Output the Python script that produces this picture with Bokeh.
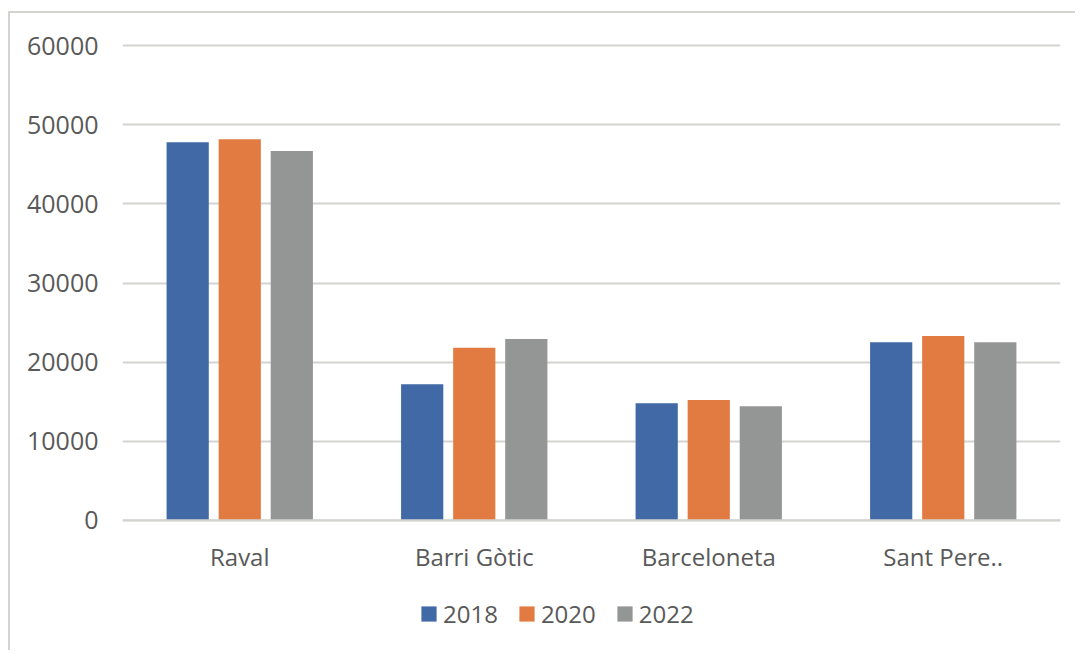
from bokeh.plotting import figure
from bokeh.layouts import column
from bokeh.models import Range1d, FixedTicker, NumeralTickFormatter, Legend, LegendItem, Span
from bokeh.transform import dodge
from bokeh.embed import file_html
from bokeh.resources import INLINE

districts = ["Raval", "Barri Gòtic", "Barceloneta", "Sant Pere.."]
years = ["2018", "2020", "2022"]
v2018 = [47800, 17200, 14800, 22500]
v2020 = [48200, 21800, 15200, 23300]
v2022 = [46700, 22900, 14400, 22500]
y_ticks = [0, 10000, 20000, 30000, 40000, 50000, 60000]

colors = ["#4169A6", "#E27B42", "#939695"]
FONT = "Open Sans"
TXT = "#595959"
GRID = "#d3d3cf"

data = dict(district=districts, y2018=v2018, y2020=v2020, y2022=v2022)

p = figure(x_range=districts, y_range=Range1d(-300, 60300),
           frame_width=938, frame_height=479,
           min_border_left=112, min_border_right=15, min_border_top=30, min_border_bottom=62,
           output_backend="svg", toolbar_location=None)
p.outline_line_color = None
p.background_fill_color = "white"
p.border_fill_color = "white"

offsets = [-0.222, 0.0, 0.222]
for key, off, col in zip(["y2018", "y2020", "y2022"], offsets, colors):
    p.vbar(x=dodge("district", off, range=p.x_range), top=key, bottom=0, width=0.18,
           source=data, fill_color=col, line_color=None)

p.add_layout(Span(location=0, dimension="width", line_color=GRID, line_width=2, level="overlay"))

p.xgrid.grid_line_color = None
p.ygrid.grid_line_color = GRID
p.ygrid.grid_line_width = 2
p.yaxis.ticker = FixedTicker(ticks=y_ticks)
p.yaxis.formatter = NumeralTickFormatter(format="0")

for ax in (p.xaxis, p.yaxis):
    ax.axis_line_color = None
    ax.major_tick_line_color = None
    ax.minor_tick_line_color = None
    ax.major_tick_out = 0
    ax.major_tick_in = 0
    ax.major_label_text_font = FONT
    ax.major_label_text_color = TXT
p.xaxis.major_label_text_font_size = "24px"
p.yaxis.major_label_text_font_size = "25px"
p.yaxis.major_label_standoff = 24
p.xaxis.major_label_standoff = 17

# legend strip below the chart (zero-height proxy bars only provide the legend keys)
lg = figure(width=1065, height=66, x_range=Range1d(0, 1), y_range=Range1d(0, 1),
            min_border=0, output_backend="svg", toolbar_location=None)
lg.axis.visible = False
lg.grid.visible = False
lg.outline_line_color = None
lg.border_fill_color = "white"
items = []
for y, col in zip(years, colors):
    r = lg.vbar(x=[0], top=[0], bottom=[0], width=0.01, fill_color=col, line_color=None)
    items.append(LegendItem(label=y, renderers=[r]))
legend = Legend(items=items, orientation="horizontal", location=(297, 20),
                glyph_width=19, glyph_height=19, label_standoff=5, spacing=19,
                padding=0, margin=0, border_line_color=None, background_fill_alpha=0,
                label_text_font=FONT, label_text_font_size="24px", label_text_color=TXT)
lg.add_layout(legend)

layout = column(p, lg, spacing=0)
layout.styles = {"border-top": f"2px solid {GRID}", "border-left": f"2px solid {GRID}",
                 "margin-top": "11px", "margin-left": "8px"}

open("out.html", "w").write(file_html(layout, INLINE))
